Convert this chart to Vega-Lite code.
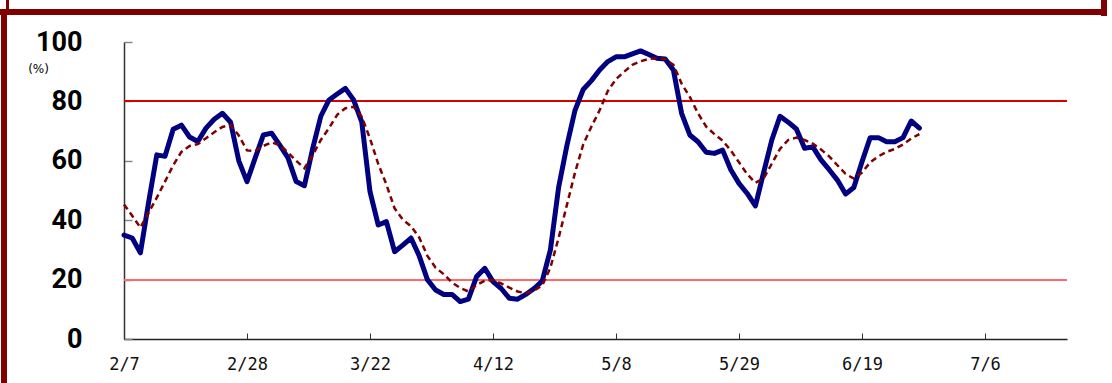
{
  "$schema": "https://vega.github.io/schema/vega-lite/v6.json",
  "width": 943,
  "height": 297,
  "autosize": {"type": "none"},
  "padding": {"left": 124, "top": 42, "right": 45, "bottom": 44},
  "background": "white",
  "config": {"view": {"stroke": null}},
  "data": {"values": [
    {"i":0,"v":35,"ma":45.3},{"i":1,"v":34,"ma":41.5},{"i":2,"v":29,"ma":37.5},{"i":3,"v":46,"ma":42.5},
    {"i":4,"v":62,"ma":47.6},{"i":5,"v":61.5,"ma":53},{"i":6,"v":70.6,"ma":58.5},{"i":7,"v":72,"ma":63},
    {"i":8,"v":68,"ma":65},{"i":9,"v":66.5,"ma":65.6},{"i":10,"v":71,"ma":67.6},{"i":11,"v":74,"ma":69.6},
    {"i":12,"v":76,"ma":71.4},{"i":13,"v":73,"ma":72},{"i":14,"v":60,"ma":68.5},{"i":15,"v":53,"ma":63.5},
    {"i":16,"v":61,"ma":63.3},{"i":17,"v":68.7,"ma":65},{"i":18,"v":69.3,"ma":66.2},{"i":19,"v":65.3,"ma":65.3},
    {"i":20,"v":61,"ma":62.8},{"i":21,"v":53,"ma":60},{"i":22,"v":51.6,"ma":57.5},{"i":23,"v":64,"ma":61.8},
    {"i":24,"v":75,"ma":67},{"i":25,"v":80.5,"ma":71},{"i":26,"v":82.5,"ma":75.5},{"i":27,"v":84.4,"ma":77.7},
    {"i":28,"v":80.5,"ma":78.2},{"i":29,"v":73,"ma":74.8},{"i":30,"v":49.6,"ma":67.5},{"i":31,"v":38.4,"ma":59},
    {"i":32,"v":39.5,"ma":52},{"i":33,"v":29.4,"ma":44},{"i":34,"v":31.6,"ma":40.2},{"i":35,"v":34,"ma":38},
    {"i":36,"v":28,"ma":34.2},{"i":37,"v":20,"ma":28},{"i":38,"v":16.5,"ma":24},{"i":39,"v":15,"ma":21.8},
    {"i":40,"v":15,"ma":19},{"i":41,"v":12.6,"ma":17.2},{"i":42,"v":13.4,"ma":16},{"i":43,"v":21,"ma":18.2},
    {"i":44,"v":23.8,"ma":19.6},{"i":45,"v":19.3,"ma":19.9},{"i":46,"v":17,"ma":18.7},{"i":47,"v":13.7,"ma":17.3},
    {"i":48,"v":13.4,"ma":16},{"i":49,"v":15,"ma":15.4},{"i":50,"v":17,"ma":16.3},{"i":51,"v":19.5,"ma":18},
    {"i":52,"v":30,"ma":24},{"i":53,"v":51,"ma":34},{"i":54,"v":65,"ma":45},{"i":55,"v":77,"ma":56},
    {"i":56,"v":84,"ma":65.5},{"i":57,"v":87,"ma":71.5},{"i":58,"v":90.6,"ma":77},{"i":59,"v":93.4,"ma":83.5},
    {"i":60,"v":95,"ma":87.5},{"i":61,"v":95,"ma":90},{"i":62,"v":96,"ma":92.3},{"i":63,"v":97,"ma":93.5},
    {"i":64,"v":95.8,"ma":94.3},{"i":65,"v":94.5,"ma":94.5},{"i":66,"v":94.3,"ma":94.3},{"i":67,"v":90.6,"ma":92.3},
    {"i":68,"v":76,"ma":86},{"i":69,"v":68.7,"ma":81.5},{"i":70,"v":66.4,"ma":76},{"i":71,"v":62.9,"ma":71.5},
    {"i":72,"v":62.5,"ma":69},{"i":73,"v":63.6,"ma":66.8},{"i":74,"v":57,"ma":63.5},{"i":75,"v":52.4,"ma":59.5},
    {"i":76,"v":49,"ma":55.5},{"i":77,"v":44.8,"ma":52.6},{"i":78,"v":56,"ma":54},{"i":79,"v":67,"ma":59},
    {"i":80,"v":75,"ma":64},{"i":81,"v":73,"ma":67},{"i":82,"v":70.7,"ma":67.8},{"i":83,"v":64.2,"ma":67},
    {"i":84,"v":64.7,"ma":65.8},{"i":85,"v":60.3,"ma":63.8},{"i":86,"v":57,"ma":61.5},{"i":87,"v":53.5,"ma":58.5},
    {"i":88,"v":48.8,"ma":55.6},{"i":89,"v":51,"ma":54},{"i":90,"v":59.7,"ma":56},{"i":91,"v":67.8,"ma":59.5},
    {"i":92,"v":67.8,"ma":61.5},{"i":93,"v":66.4,"ma":63},{"i":94,"v":66.4,"ma":64},{"i":95,"v":67.8,"ma":65.5},
    {"i":96,"v":73.4,"ma":67.5},{"i":97,"v":71,"ma":69}
  ]},
  "layer": [
    {
      "mark": {"type": "rule", "color": "#d40000", "strokeWidth": 1},
      "encoding": {"y": {"datum": 80, "type": "quantitative"}}
    },
    {
      "mark": {"type": "rule", "color": "#ff6a6a", "strokeWidth": 1.2},
      "encoding": {"y": {"datum": 20, "type": "quantitative"}}
    },
    {
      "mark": {"type": "line", "color": "#000080", "strokeWidth": 5, "strokeJoin": "round", "strokeCap": "round"},
      "encoding": {
        "x": {"field": "i", "type": "quantitative",
          "scale": {"domain": [0, 115], "nice": false, "zero": false},
          "axis": {"values": [0, 15, 30, 45, 60, 75, 90, 105],
            "labelExpr": "['2/7','2/28','3/22','4/12','5/8','5/29','6/19','7/6'][round(datum.value/15)]",
            "title": null, "grid": false, "tickSize": -6, "tickColor": "#333", "tickWidth": 1,
            "domainColor": "#222", "domainWidth": 1.5,
            "labelFont": "DejaVu Sans Mono", "labelFontSize": 17, "labelColor": "#111",
            "labelBaseline": "top", "labelAlign": "center", "labelPadding": 23,
            "labelFlush": false, "labelOverlap": false}},
        "y": {"field": "v", "type": "quantitative",
          "scale": {"domain": [0, 100], "nice": false},
          "axis": {"values": [0, 20, 40, 60, 80, 100], "grid": false,
            "tickSize": -8, "tickColor": "#888", "tickWidth": 1.5,
            "domainColor": "#333", "domainWidth": 1.5,
            "labelFont": "Roboto", "labelFontSize": 27,
            "labelFontWeight": "bold", "labelColor": "#000", "labelPadding": 50, "labelBaseline": "middle",
            "title": "(%)", "titleAngle": 0, "titleX": -86, "titleY": 26, "titleAlign": "center",
            "titleBaseline": "middle", "titleFontSize": 12, "titleFontWeight": "normal",
            "titleFont": "DejaVu Sans", "titleColor": "#000"}}
      }
    },
    {
      "mark": {"type": "line", "color": "#800000", "strokeWidth": 2.5, "strokeDash": [6, 4]},
      "encoding": {
        "x": {"field": "i", "type": "quantitative"},
        "y": {"field": "ma", "type": "quantitative"}
      }
    },
    {
      "mark": {"type": "rule", "color": "#800000", "strokeWidth": 6},
      "encoding": {"x": {"datum": -16, "type": "quantitative"}, "x2": {"datum": 119.5},
        "y": {"datum": 110.1, "type": "quantitative"}}
    },
    {
      "mark": {"type": "rule", "color": "#800000", "strokeWidth": 5},
      "encoding": {"x": {"datum": -14.6, "type": "quantitative"},
        "y": {"datum": 111, "type": "quantitative"}, "y2": {"datum": -20}}
    },
    {
      "mark": {"type": "rule", "color": "#800000", "strokeWidth": 5},
      "encoding": {"x": {"datum": 119.5, "type": "quantitative"},
        "y": {"datum": 125, "type": "quantitative"}, "y2": {"datum": 109}}
    },
    {
      "mark": {"type": "rule", "color": "#800000", "strokeWidth": 1.5},
      "encoding": {"x": {"datum": -14.2, "type": "quantitative"},
        "y": {"datum": 125, "type": "quantitative"}, "y2": {"datum": 110}}
    }
  ]
}
